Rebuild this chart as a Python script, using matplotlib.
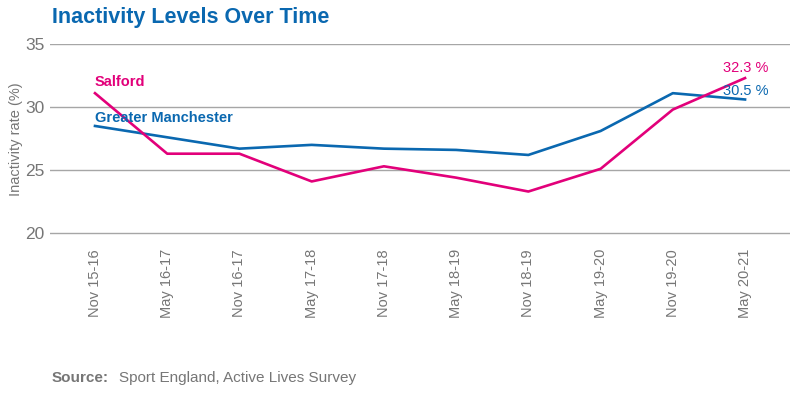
import matplotlib.pyplot as plt

## ## data
periods = ["Nov 15-16", "May 16-17", "Nov 16-17", "May 17-18", "Nov 17-18",
           "May 18-19", "Nov 18-19", "May 19-20", "Nov 19-20", "May 20-21"]
salford = [31.1, 26.3, 26.3, 24.1, 25.3, 24.4, 23.3, 25.1, 29.8, 32.3]
greater_manchester = [28.5, 27.6, 26.7, 27.0, 26.7, 26.6, 26.2, 28.1, 31.1, 30.6]
salford_last_label = "32.3 %"
gm_last_label = "30.5 %"

pink = "#E2007A"
blue = "#0A68B0"
grey = "#767676"

plt.rcParams['font.family'] = ['Liberation Sans', 'DejaVu Sans']

fig = plt.figure(figsize=(7.97, 3.93), dpi=100)
ax = fig.add_axes([0.063, 0.402, 0.928, 0.486])

x = list(range(len(periods)))
ax.plot(x, greater_manchester, color=blue, lw=1.9)
ax.plot(x, salford, color=pink, lw=1.9)

ax.set_xlim(-0.62, len(periods) - 1 + 0.62)
ax.set_ylim(19.85, 35)
ax.set_yticks([20, 25, 30, 35])
ax.grid(axis="y", color="#A6A6A6", lw=1)
ax.set_axisbelow(True)
for s in ax.spines.values():
    s.set_visible(False)
ax.tick_params(axis="y", length=0, labelsize=12.5, labelcolor=grey, pad=4)
ax.tick_params(axis="x", length=0, labelsize=10.5, labelcolor=grey, pad=10)
ax.set_xticks(x)
ax.set_xticklabels(periods, rotation=90)
ax.set_ylabel("Inactivity rate (%)", color=grey, fontsize=10.5, labelpad=2)

## ## series labels
ax.text(0, salford[0] + 0.3, "Salford", color=pink, fontsize=10.5,
        fontweight="bold", va="bottom")
ax.text(0, greater_manchester[0] + 0.05, "Greater Manchester", color=blue,
        fontsize=10.5, fontweight="bold", va="bottom")
ax.text(x[-1] + 0.32, salford[-1] + 0.25, salford_last_label, color=pink,
        fontsize=10.5, ha="right", va="bottom")
ax.text(x[-1] + 0.32, greater_manchester[-1] + 0.15, gm_last_label, color=blue,
        fontsize=10.5, ha="right", va="bottom")

fig.text(0.065, 0.955, "Inactivity Levels Over Time", color=blue, fontsize=15.5,
         fontweight="bold", va="center")
fig.text(0.065, 0.038, "Source:", color=grey, fontsize=11, fontweight="bold",
         va="center")
fig.text(0.149, 0.038, "Sport England, Active Lives Survey", color=grey,
         fontsize=11, va="center")

plt.savefig("out.png", dpi=100)
